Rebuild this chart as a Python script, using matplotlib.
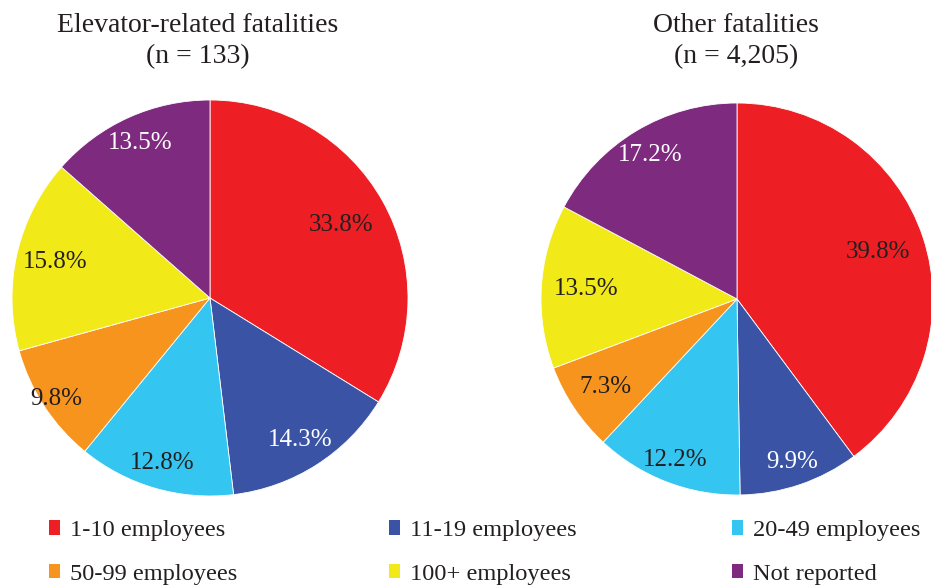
import matplotlib
matplotlib.use("Agg")
import matplotlib.pyplot as plt
from matplotlib.patches import Patch
import numpy as np

plt.rcParams['font.family'] = ['Liberation Serif', 'DejaVu Serif']

categories = ["1-10 employees", "11-19 employees", "20-49 employees",
              "50-99 employees", "100+ employees", "Not reported"]
elevator_pct = [33.8, 14.3, 12.8, 9.8, 15.8, 13.5]
other_pct = [39.8, 9.9, 12.2, 7.3, 13.5, 17.2]
titles = ["Elevator-related fatalities\n(n = 133)", "Other fatalities\n(n = 4,205)"]

colors = ["#ED1F24", "#3A53A4", "#35C5F1", "#F7941E", "#F2E919", "#7E2A7E"]
text_colors = ["#231F20", "white", "#231F20", "#231F20", "#231F20", "white"]
dist1 = [0.76, 0.85, 0.87, 0.93, 0.80, 0.86]
dist2 = [0.76, 0.88, 0.88, 0.81, 0.77, 0.86]

W, H = 931, 586
fig = plt.figure(figsize=(W / 100, H / 100), dpi=100)

def make_pie(cx, cy, r, values, dists):
    ax = fig.add_axes([(cx - r) / W, (H - cy - r) / H, 2 * r / W, 2 * r / H])
    wedges, _ = ax.pie(values, colors=colors, startangle=90, counterclock=False,
                       wedgeprops=dict(edgecolor="white", linewidth=0.6))
    ax.set_xlim(-1, 1)
    ax.set_ylim(-1, 1)
    ax.set_aspect("equal")
    ax.axis("off")
    for w, v, d, tc in zip(wedges, values, dists, text_colors):
        ang = np.deg2rad((w.theta1 + w.theta2) / 2)
        ax.text(d * np.cos(ang), d * np.sin(ang), f"{v:.1f}%", ha="center", va="center",
                fontsize=18, color=tc)
    return ax

make_pie(210, 298, 198, elevator_pct, dist1)
make_pie(737, 299, 196, other_pct, dist2)

fig.text(198 / W, 1 - 13 / H, titles[0], ha="center", va="top", fontsize=20,
         color="#231F20", linespacing=1.32)
fig.text(736 / W, 1 - 13 / H, titles[1], ha="center", va="top", fontsize=20,
         color="#231F20", linespacing=1.32)

col_x = [49, 389, 732]
for i, x in enumerate(col_x):
    idx = [i, i + 3]
    handles = [Patch(facecolor=colors[j], edgecolor="none") for j in idx]
    labels = [categories[j] for j in idx]
    leg = fig.legend(handles, labels, loc="upper left", bbox_to_anchor=(x / W, 1 - 520 / H),
                     frameon=False, fontsize=17.6, handlelength=0.45, handleheight=0.55,
                     handletextpad=0.42, labelspacing=0.92, borderpad=0, borderaxespad=0)
    for t in leg.get_texts():
        t.set_color("#231F20")

fig.savefig("out.png", dpi=100)
